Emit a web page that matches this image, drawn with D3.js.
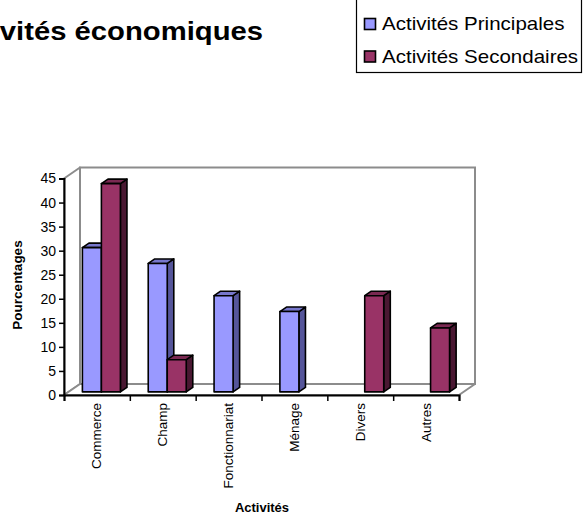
<!DOCTYPE html>
<html><head><meta charset="utf-8">
<script src="https://cdn.jsdelivr.net/npm/d3@7/dist/d3.min.js"></script>
<style>
html,body{margin:0;padding:0;background:#fff;overflow:hidden;}
svg{display:block;font-family:"Liberation Sans",Arial,sans-serif;}
</style></head>
<body>
<svg id="c" width="584" height="514"></svg>
<script>
const categories = ["Commerce","Champ","Fonctionnariat","Ménage","Divers","Autres"];
const seriesNames = ["Activités Principales","Activités Secondaires"];
const principales = [30, 26.7, 20, 16.7, 0, 0];
const secondaires = [43.3, 6.7, 0, 0, 20, 13.3];
const yTicks = [0,5,10,15,20,25,30,35,40,45];
const titleText = "Activités économiques";
const yTitle = "Pourcentages";
const xTitle = "Activités";

const colors = {
  front: ["#9999ff","#993366"],
  top:   ["#7777cc","#7a2952"],
  side:  ["#55559a","#4a1832"]
};

const svg = d3.select("#c");
const X0 = 64, X1 = 459, Y0 = 395, YT = 178.5;
const DX = 16, DY = -11;           // full depth offset
const fFront = 0.28, fBack = 0.69; // bar depth fractions
const barW = 19;

const x = d3.scaleBand().domain(categories).range([X0, X1]).paddingInner(0).paddingOuter(0);
const xLin = d3.scaleLinear().domain([0, categories.length]).range([X0, X1]);
const y = d3.scaleLinear().domain([0, 45]).range([Y0, YT]);
const sub = d3.scaleBand().domain(seriesNames).range([-barW, barW]);

// walls
const wallStroke = "#8c8c8c";
svg.append("path")
  .attr("d", `M${X0},${y(45)} L${X0+DX},${y(45)+DY} L${X0+DX},${Y0+DY} L${X0},${Y0} Z`)
  .attr("fill","#fff").attr("stroke",wallStroke).attr("stroke-width",2).attr("stroke-linejoin","round");
svg.append("rect")
  .attr("x", X0+DX).attr("y", y(45)+DY).attr("width", X1-X0).attr("height", Y0-y(45))
  .attr("fill","#fff").attr("stroke",wallStroke).attr("stroke-width",2);
svg.append("path")
  .attr("d", `M${X0},${Y0} L${X1},${Y0} L${X1+DX},${Y0+DY} L${X0+DX},${Y0+DY} Z`)
  .attr("fill","#fff").attr("stroke",wallStroke).attr("stroke-width",2).attr("stroke-linejoin","round");

// bars
const data = [principales, secondaires];
const bars = [];
categories.forEach((c, i) => {
  seriesNames.forEach((s, k) => {
    const v = data[k][i];
    if (v > 0) bars.push({c, s, k, v});
  });
});
const fx = DX*fFront, fy = DY*fFront;
const bdx = DX*(fBack-fFront), bdy = DY*(fBack-fFront);
const g = svg.append("g");
bars.forEach(b => {
  const cx = x(b.c) + x.bandwidth()/2;
  const left = cx + sub(b.s) + fx;
  const right = left + sub.bandwidth();
  const top = y(b.v) + fy;
  const bot = y(0) + fy;
  const bg = g.append("g").attr("stroke","#000").attr("stroke-width",1.6).attr("stroke-linejoin","round");
  bg.append("path").attr("fill", colors.side[b.k])
    .attr("d", `M${right},${top} L${right+bdx},${top+bdy} L${right+bdx},${bot+bdy} L${right},${bot} Z`);
  bg.append("path").attr("fill", colors.top[b.k])
    .attr("d", `M${left},${top} L${left+bdx},${top+bdy} L${right+bdx},${top+bdy} L${right},${top} Z`);
  bg.append("rect").attr("fill", colors.front[b.k])
    .attr("x", left).attr("y", top).attr("width", right-left).attr("height", bot-top);
});

// y axis
const ya = svg.append("g").attr("transform", `translate(${X0},0)`)
  .call(d3.axisLeft(y).tickValues(yTicks).tickSize(5).tickPadding(3).tickFormat(d3.format("d")));
ya.select(".domain").attr("stroke","#000").attr("stroke-width",2);
ya.selectAll(".tick line").attr("stroke","#000").attr("stroke-width",1.5);
ya.selectAll(".tick text").attr("font-size",14).attr("fill","#000")
  .attr("font-family","'Liberation Sans',Arial,sans-serif");

// x axis
const xa = svg.append("g").attr("transform", `translate(0,${Y0})`)
  .call(d3.axisBottom(xLin).tickValues(d3.range(categories.length+1)).tickSize(6).tickFormat(""));
xa.select(".domain").attr("stroke","#000").attr("stroke-width",2);
xa.selectAll(".tick line").attr("stroke","#000").attr("stroke-width",1.5);

svg.append("g").selectAll("text").data(categories).join("text")
  .attr("transform", d => `translate(${x(d)+x.bandwidth()/2+4.5},403) rotate(-90)`)
  .attr("text-anchor","end").attr("font-size",13.5).attr("fill","#000").text(d => d);

// axis titles
svg.append("text").attr("transform",`translate(22,285) rotate(-90)`)
  .attr("text-anchor","middle").attr("font-size",13.5).attr("font-weight","bold").text(yTitle);
svg.append("text").attr("x", 262).attr("y", 512)
  .attr("text-anchor","middle").attr("font-size",13).attr("font-weight","bold").text(xTitle);

// title (partly beyond the left edge, as in the reference)
svg.append("text").attr("transform","translate(263,40) scale(1.125,1)")
  .attr("text-anchor","end").attr("font-size",26).attr("font-weight","bold").text(titleText);

// legend
const lg = svg.append("g");
lg.append("rect").attr("x",356.5).attr("y",-2).attr("width",225).attr("height",74.5)
  .attr("fill","#fff").attr("stroke","#000").attr("stroke-width",1.2);
seriesNames.forEach((s,k) => {
  lg.append("rect").attr("x",364.5).attr("y",18.5+k*32.5).attr("width",11).attr("height",11)
    .attr("fill",colors.front[k]).attr("stroke","#000").attr("stroke-width",1.6);
  lg.append("text").attr("transform",`translate(382,${29.5+k*33}) scale(1.14,1)`)
    .attr("font-size",18).attr("fill","#000").text(s);
});
</script>
</body></html>
